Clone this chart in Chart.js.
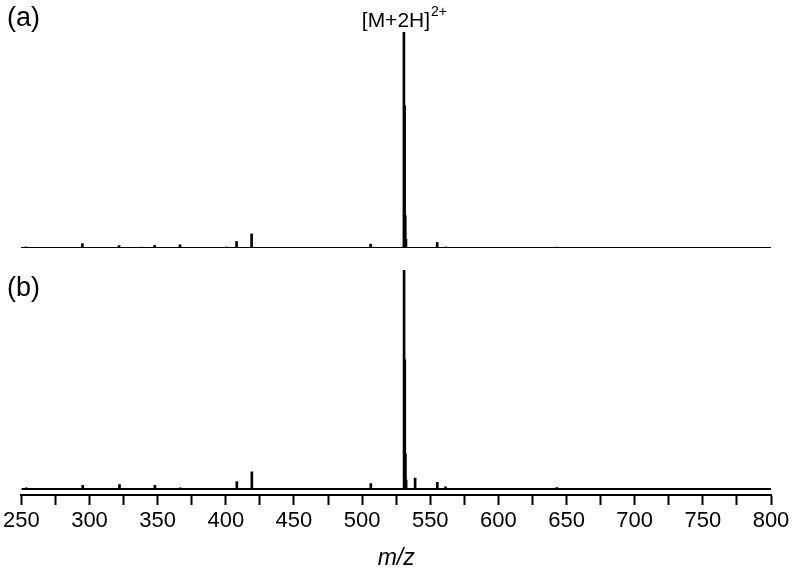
<!DOCTYPE html>
<html>
<head>
<meta charset="utf-8">
<script src="https://cdn.jsdelivr.net/npm/chart.js@4.4.0/dist/chart.umd.min.js"></script>
<style>
  body { margin: 0; background: #fff; }
  #wrap { position: relative; width: 793px; height: 572px; }
  canvas { position: absolute; left: 0; }
</style>
</head>
<body>
<div id="wrap">
  <canvas id="panelA" width="793" height="260" style="top:0"></canvas>
  <canvas id="panelB" width="793" height="312" style="top:260px"></canvas>
</div>
<script>
// m/z axis
const xMin = 250;
const xMax = 800;
const xStep = 25;     // minor tick spacing, labels every 50

// spectrum (a): peak m/z and relative intensity
const mzA  = [253.7, 295.0, 321.9, 338.5, 348.0, 366.6, 400.8, 408.1, 419.1, 506.4, 530.8, 531.3, 531.8, 532.3, 555.2, 561.5, 642.8];
const intA = [0.005, 0.020, 0.011, 0.004, 0.012, 0.015, 0.005, 0.030, 0.065, 0.018, 1.000, 0.660, 0.150, 0.040, 0.026, 0.005, 0.004];

// spectrum (b)
const mzB  = [253.7, 295.0, 322.0, 348.0, 366.6, 408.1, 419.1, 506.4, 530.8, 531.3, 531.8, 532.3, 538.9, 555.2, 561.2, 642.8];
const intB = [0.005, 0.017, 0.020, 0.017, 0.005, 0.034, 0.078, 0.025, 1.000, 0.590, 0.160, 0.040, 0.050, 0.030, 0.010, 0.006];

const mainPeak = 530.8;
const FONT = '"Liberation Sans", Arial, sans-serif';

Chart.defaults.font.family = FONT;
Chart.defaults.color = '#000';

const toPoints = (xs, ys) => xs.map((m, i) => ({ x: m, y: ys[i] }));

// panel letters and the ion label
const panelText = {
  id: 'panelText',
  afterDraw(chart, args, opts) {
    const ctx = chart.ctx;
    ctx.save();
    ctx.fillStyle = '#000';
    ctx.textBaseline = 'alphabetic';
    ctx.font = '27px ' + FONT;
    ctx.fillText(opts.tag, 7, opts.tagY);
    if (opts.ion) {
      const px = chart.scales.x.getPixelForValue(mainPeak);
      ctx.font = '21px ' + FONT;
      const w1 = ctx.measureText('[M+2H]').width;
      ctx.font = '14px ' + FONT;
      const w2 = ctx.measureText('2+').width;
      const start = px - (w1 + w2) / 2;
      ctx.font = '21px ' + FONT;
      ctx.fillText('[M+2H]', start, 27);
      ctx.font = '14px ' + FONT;
      ctx.fillText('2+', start + w1 + 1, 16);
    }
    ctx.restore();
  }
};

function spectrum(id, mz, inten, yMin, withAxis, pad, text) {
  return new Chart(document.getElementById(id), {
    type: 'bar',
    data: {
      datasets: [{
        type: 'bar',
        data: toPoints(mz, inten),
        backgroundColor: '#000',
        borderWidth: 0,
        barThickness: 2,
        grouped: false
      }, {
        type: 'line',
        data: [{ x: xMin, y: 0 }, { x: xMax, y: 0 }],
        borderColor: '#000',
        borderWidth: 2,
        pointRadius: 0
      }]
    },
    options: {
      responsive: false,
      animation: false,
      layout: { padding: pad },
      plugins: { legend: { display: false }, tooltip: { enabled: false }, panelText: text },
      scales: {
        x: {
          type: 'linear',
          min: xMin,
          max: xMax,
          offset: false,
          display: withAxis,
          border: { display: true, color: '#000', width: 2 },
          grid: { offset: false, drawOnChartArea: false, drawTicks: true, tickLength: 10, tickWidth: 2, tickColor: '#000', color: '#000' },
          ticks: {
            stepSize: xStep,
            autoSkip: false,
            maxRotation: 0,
            padding: 3,
            color: '#000',
            font: { size: 22 },
            callback: v => (v % 50 === 0 ? String(v) : '')
          },
          title: {
            display: true,
            text: 'm/z',
            color: '#000',
            font: { size: 23, style: 'italic' },
            padding: { top: 7, bottom: 0 }
          }
        },
        y: { display: false, min: yMin, max: 1 }
      }
    },
    plugins: [panelText]
  });
}

spectrum('panelA', mzA, intA, 0, false, { left: 21, right: 22, top: 32, bottom: 12 }, { tag: '(a)', tagY: 26, ion: true });
spectrum('panelB', mzB, intB, -0.0276, true, { left: 21, right: 22, top: 10, bottom: 0 }, { tag: '(b)', tagY: 36, ion: false });
</script>
</body>
</html>
